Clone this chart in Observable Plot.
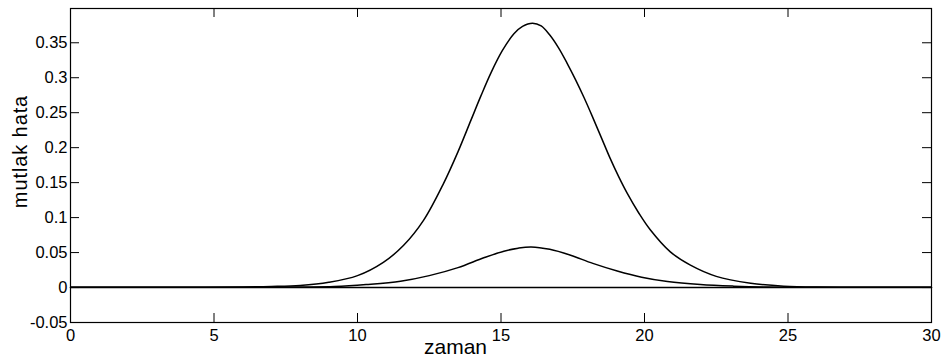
<!DOCTYPE html>
<html><head><meta charset="utf-8">
<script src="https://cdn.jsdelivr.net/npm/d3@7"></script>
<script src="https://cdn.jsdelivr.net/npm/@observablehq/plot@0.6"></script>
<style>html,body{margin:0;padding:0;background:#fff} svg{display:block}</style>
</head><body><div id="chart"></div>
<script>
// Upper (large) error curve
const xUpper = [0, 2, 4, 6, 7, 8, 9, 10, 10.9, 11.6, 12.3, 13.0, 13.5, 13.95, 14.3, 14.65, 15.05, 15.45, 15.75, 16.1,
  16.4, 16.7, 17.0, 17.3, 17.6, 17.9, 18.2, 18.5, 18.8, 19.1, 19.4, 19.8, 20.2, 20.9, 21.6, 22.5, 23.7, 24.85, 26, 28, 30];
const yUpper = [0.0005, 0.0005, 0.0005, 0.0008, 0.0015, 0.003, 0.0075, 0.017, 0.036, 0.06, 0.096, 0.149, 0.194, 0.239, 0.274, 0.307, 0.339, 0.363, 0.3735, 0.378,
  0.374, 0.361, 0.343, 0.321, 0.297, 0.271, 0.243, 0.214, 0.185, 0.1586, 0.1346, 0.1066, 0.0826, 0.051, 0.032, 0.016, 0.0062, 0.002, 0.0006, 0.0005, 0.0005];
// Lower (small) error curve
const xLower = [0, 3, 6, 8, 9.2, 10.3, 11.5, 12.5, 13.5, 14.4, 15.1, 15.6, 16.05, 16.7, 17.4, 18.2, 19.05, 19.9, 20.8, 21.95, 23.1, 24.3, 26, 30];
const yLower = [0.0003, 0.0003, 0.0003, 0.0008, 0.0015, 0.0043, 0.009, 0.017, 0.0285, 0.0425, 0.052, 0.0563, 0.058, 0.0546, 0.0465, 0.0345, 0.0236, 0.0148, 0.0086, 0.0043, 0.002, 0.0006, 0.0003, 0.0003];

const xTicks = [0, 5, 10, 15, 20, 25, 30];
const yTicks = [-0.05, 0, 0.05, 0.1, 0.15, 0.2, 0.25, 0.3, 0.35];
const xLabel = "zaman";
const yLabel = "mutlak hata";

const W = 943, H = 358, mL = 70, mR = 12, mT = 8, mB = 36;
const innerW = W - mL - mR, innerH = H - mT - mB;
const tick = 9;

const upper = xUpper.map((x, i) => ({x, y: yUpper[i]}));
const lower = xLower.map((x, i) => ({x, y: yLower[i]}));
const fmt = d => String(+(+d).toFixed(2));

const plot = Plot.plot({
  width: W, height: H,
  marginLeft: mL, marginRight: mR, marginTop: mT, marginBottom: mB,
  style: {fontFamily: "'Liberation Sans', Arial, sans-serif", fontSize: "16.5px", color: "#000", background: "#fff"},
  x: {domain: [0, 30]},
  y: {domain: [-0.05, 0.399]},
  marks: [
    Plot.axisX(xTicks, {tickSize: 0, tickPadding: 7, tickFormat: fmt, label: null, fontSize: 16.5}),
    Plot.axisY(yTicks, {tickSize: 0, tickPadding: 3, tickFormat: fmt, label: null, fontSize: 16.5}),
    Plot.tickX(xTicks, {x: d => d, insetTop: innerH - tick, stroke: "#000"}),
    Plot.tickX(xTicks, {x: d => d, insetBottom: innerH - tick, stroke: "#000"}),
    Plot.tickY(yTicks, {y: d => d, insetRight: innerW - tick, stroke: "#000"}),
    Plot.tickY(yTicks, {y: d => d, insetLeft: innerW - tick, stroke: "#000"}),
    Plot.ruleY([0], {stroke: "#000", strokeWidth: 1.6}),
    Plot.lineY(upper, {x: "x", y: "y", curve: "catmull-rom", stroke: "#000", strokeWidth: 1.5}),
    Plot.lineY(lower, {x: "x", y: "y", curve: "catmull-rom", stroke: "#000", strokeWidth: 1.5}),
    Plot.frame({stroke: "#000", strokeWidth: 1.2}),
    Plot.text([xLabel], {text: d => d, frameAnchor: "bottom", lineAnchor: "bottom", textAnchor: "middle", dx: -45.5, dy: 31, fontSize: 21, fill: "#000"}),
    Plot.text([yLabel], {text: d => d, frameAnchor: "left", rotate: -90, lineAnchor: "bottom", textAnchor: "middle", dx: -44, dy: -14, fontSize: 20, fill: "#000"})
  ]
});
d3.select(plot).selectAll("text").filter(function() { return this.textContent === yLabel; }).attr("letter-spacing", "0.9px");
document.getElementById("chart").appendChild(plot);
</script>
</body></html>
